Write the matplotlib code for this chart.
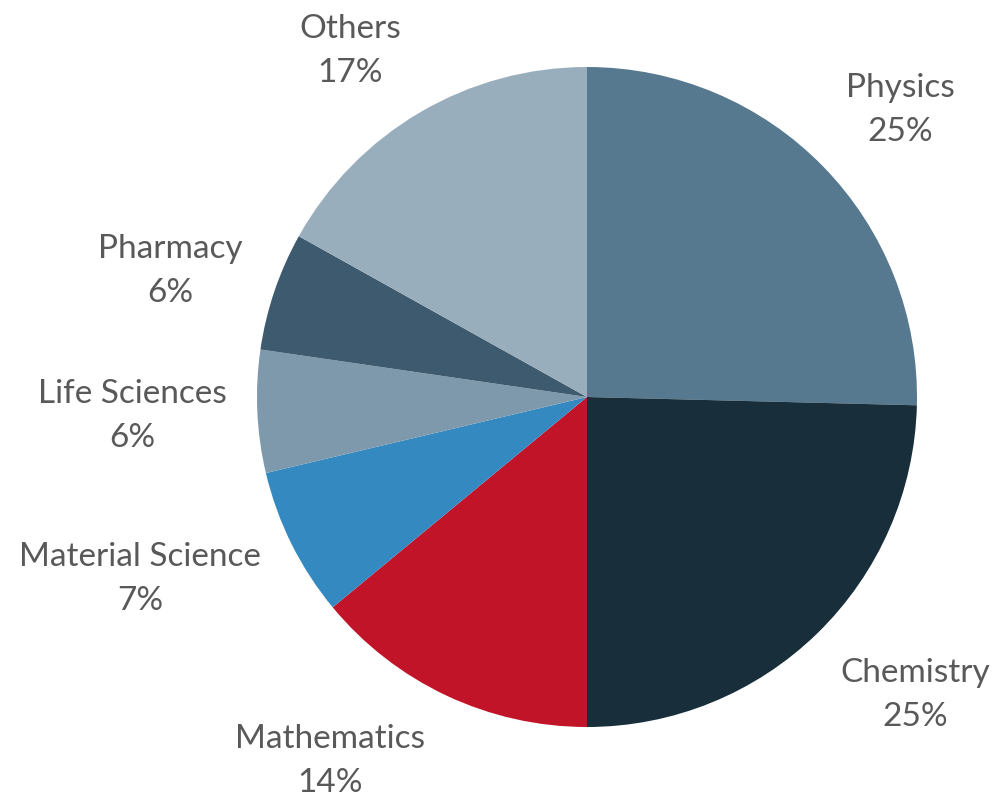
import matplotlib.pyplot as plt

# shares in percent
subjects = ["Physics", "Chemistry", "Mathematics", "Material Science",
            "Life Sciences", "Pharmacy", "Others"]
shares = [25.4, 24.6, 14.0, 7.3, 6.0, 5.8, 16.9]
colors = ["#56798F", "#182F3B", "#C11428", "#3589C1", "#7E99AC", "#3E5A6E", "#99AEBD"]

# label block centres in pixels (x from left, y from top)
label_pos = [(900, 110), (915, 695), (330, 761), (140, 579), (132, 416), (170, 271), (350, 51)]

W, H = 998, 799
fig = plt.figure(figsize=(W / 100, H / 100), dpi=100)
ax = fig.add_axes([0, 0, 1, 1])

ax.pie(shares, colors=colors, startangle=90, counterclock=False,
       center=(587, H - 397), radius=330, wedgeprops=dict(linewidth=0))

# pie() resets the view, so fix it afterwards
ax.set_xlim(0, W)
ax.set_ylim(0, H)
ax.set_aspect("equal")
ax.axis("off")

for name, share, (x, y) in zip(subjects, shares, label_pos):
	ax.text(x, H - y, f"{name}\n{share:.0f}%", ha="center", va="center",
	        fontsize=24, family="Lato", color="#595959", linespacing=1.6)

fig.savefig("out.png", dpi=100)
